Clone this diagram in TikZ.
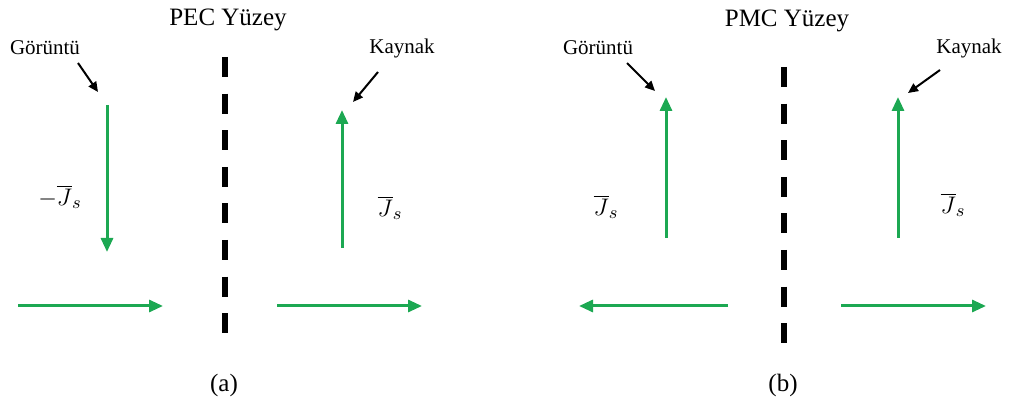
\documentclass[tikz,border=0pt]{standalone}
\usepackage{fontspec}
\setmainfont{Liberation Serif}
\usetikzlibrary{arrows.meta}
\definecolor{currgreen}{RGB}{28,168,82}

\tikzset{
  current/.style={currgreen,line width=1.5pt,-{Triangle[length=7pt,width=6pt]}},
  pointer/.style={black,line width=1pt,-{Triangle[length=5pt,width=4.5pt]}},
  wall/.style={black,line width=2.6pt,dash pattern=on 10pt off 8.3pt},
  title/.style={font=\fontsize{12.5}{14}\selectfont},
  tag/.style={font=\fontsize{10.5}{12}\selectfont},
  sym/.style={font=\fontsize{13}{15}\selectfont}
}

\begin{document}
\begin{tikzpicture}[x=0.5pt,y=-0.5pt]
  \useasboundingbox (0,0) rectangle (1011,405);

  % (a) PEC surface
  \node[title] (pec) at (228,20) {PEC Yüzey};
  \coordinate (pecT) at (225,57);
  \coordinate (pecB) at (225,335);
  \draw[wall] (pecT) -- (pecB);

  % Image current (a)
  \node[tag] (gorA) at (45,48) {Görüntü};
  \coordinate (gorAs) at (78,63);
  \coordinate (gorAe) at (98,92);
  \draw[pointer] (gorAs) -- (gorAe);
  \coordinate (imgAtop) at (107,105);
  \coordinate (imgAbot) at (107,252);
  \draw[current] (imgAtop) -- (imgAbot);
  \node[sym] (jsA1) at (60,197) {$-\overline{J}_s$};

  % Source current (a)
  \node[tag] (kayA) at (402,48) {Kaynak};
  \coordinate (kayAs) at (378,72);
  \coordinate (kayAe) at (353,102);
  \draw[pointer] (kayAs) -- (kayAe);
  \coordinate (srcAbot) at (342,248);
  \coordinate (srcAtop) at (342,110);
  \draw[current] (srcAbot) -- (srcAtop);
  \node[sym] (jsA2) at (390,208) {$\overline{J}_s$};

  % Horizontal currents (a)
  \coordinate (hA1s) at (18,306);
  \coordinate (hA1e) at (163,306);
  \coordinate (hA2s) at (277,306);
  \coordinate (hA2e) at (422,306);
  \draw[current] (hA1s) -- (hA1e);
  \draw[current] (hA2s) -- (hA2e);

  \node[title] (capA) at (224,385) {(a)};

  % (b) PMC surface
  \node[title] (pmc) at (787,21) {PMC Yüzey};
  \coordinate (pmcT) at (784,67);
  \coordinate (pmcB) at (784,343);
  \draw[wall] (pmcT) -- (pmcB);

  % Image current (b)
  \node[tag] (gorB) at (598,48) {Görüntü};
  \coordinate (gorBs) at (627,63);
  \coordinate (gorBe) at (655,91);
  \draw[pointer] (gorBs) -- (gorBe);
  \coordinate (imgBbot) at (666,238);
  \coordinate (imgBtop) at (666,97);
  \draw[current] (imgBbot) -- (imgBtop);
  \node[sym] (jsB1) at (606,207) {$\overline{J}_s$};

  % Source current (b)
  \node[tag] (kayB) at (969,48) {Kaynak};
  \coordinate (kayBs) at (940,70);
  \coordinate (kayBe) at (908,93);
  \draw[pointer] (kayBs) -- (kayBe);
  \coordinate (srcBbot) at (898,238);
  \coordinate (srcBtop) at (898,97);
  \draw[current] (srcBbot) -- (srcBtop);
  \node[sym] (jsB2) at (953,205) {$\overline{J}_s$};

  % Horizontal currents (b)
  \coordinate (hB1s) at (728,306);
  \coordinate (hB1e) at (579,306);
  \coordinate (hB2s) at (841,306);
  \coordinate (hB2e) at (986,306);
  \draw[current] (hB1s) -- (hB1e);
  \draw[current] (hB2s) -- (hB2e);

  \node[title] (capB) at (783,385) {(b)};
\end{tikzpicture}
\end{document}
